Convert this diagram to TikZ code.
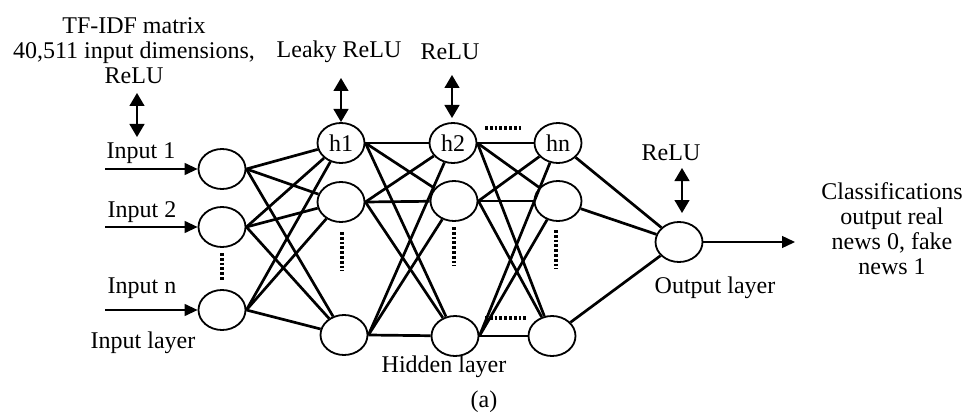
\documentclass[tikz,border=0pt]{standalone}
\usepackage{fontspec}
\setmainfont{Liberation Serif}
\usetikzlibrary{shapes.geometric,arrows.meta}
\begin{document}
\begin{tikzpicture}[x=1pt,y=-1pt,
  neuron/.style={draw,ellipse,line width=1.8pt,minimum width=47pt,minimum height=40pt,inner sep=0pt,font=\fontsize{24}{25}\selectfont},
  conn/.style={line width=2.7pt},
  lbl/.style={font=\fontsize{24}{25}\selectfont,inner sep=0pt,align=center},
  inarrow/.style={line width=1.3pt,-{Triangle[length=13pt,width=12pt]}},
  dbl/.style={line width=1.3pt,{Triangle[length=13pt,width=15pt]}-{Triangle[length=13pt,width=15pt]}},
  dotline/.style={line width=4pt,dash pattern=on 2.8pt off 2pt}
]
\useasboundingbox (0,0) rectangle (965,414);
% neurons
\node[neuron] (i1) at (222,169) {};
\node[neuron] (i2) at (222,227) {};
\node[neuron] (in) at (222,310) {};
\node[neuron] (a1) at (341,143) {h1};
\node[neuron] (a2) at (341,202) {};
\node[neuron] (a3) at (344,335) {};
\node[neuron] (b1) at (453,143) {h2};
\node[neuron] (b2) at (454,201) {};
\node[neuron] (b3) at (455,336) {};
\node[neuron] (c1) at (558,143) {hn};
\node[neuron] (c2) at (558,201) {};
\node[neuron] (c3) at (552,336) {};
\node[neuron] (o) at (679,242) {};
% connections
\foreach \s in {i1,i2,in}{\foreach \t in {a1,a2,a3}{\draw[conn] (\s.east) -- (\t);}}
\foreach \s in {a1,a2,a3}{\foreach \t in {b1,b2,b3}{\draw[conn] (\s.east) -- (\t);}}
\foreach \s in {b1,b2,b3}{\foreach \t in {c1,c2,c3}{\draw[conn] (\s.east) -- (\t);}}
\foreach \s in {c1,c2,c3}{\draw[conn] (\s) -- (o);}
% input arrows
\coordinate (s1) at (105,169);
\coordinate (s2) at (105,227);
\coordinate (sn) at (105,310);
\draw[inarrow] (s1) -- (i1);
\draw[inarrow] (s2) -- (i2);
\draw[inarrow] (sn) -- (in);
\coordinate (oe) at (795,242);
\draw[inarrow] (o) -- (oe);
% double arrows
\coordinate (d1a) at (137,93);  \coordinate (d1b) at (137,137);
\coordinate (d2a) at (341,78);  \coordinate (d2b) at (341,122);
\coordinate (d3a) at (452,75);  \coordinate (d3b) at (452,118);
\coordinate (d4a) at (682,168); \coordinate (d4b) at (682,213);
\draw[dbl] (d1a) -- (d1b);
\draw[dbl] (d2a) -- (d2b);
\draw[dbl] (d3a) -- (d3b);
\draw[dbl] (d4a) -- (d4b);
% dots
\coordinate (v1a) at (222,253); \coordinate (v1b) at (222,281);
\coordinate (v2a) at (342,232); \coordinate (v2b) at (342,271);
\coordinate (v3a) at (454,227); \coordinate (v3b) at (454,266);
\coordinate (v4a) at (556,230); \coordinate (v4b) at (556,269);
\coordinate (h1a) at (485,128); \coordinate (h1b) at (523,128);
\coordinate (h2a) at (485,318); \coordinate (h2b) at (528,318);
\foreach \p/\q in {v1a/v1b,v2a/v2b,v3a/v3b,v4a/v4b,h1a/h1b,h2a/h2b}{\draw[dotline] (\p) -- (\q);}
% labels
\node[lbl] (tf) at (134,51) {TF-IDF matrix\\40,511 input dimensions,\\ReLU};
\node[lbl] (lk) at (339,52) {Leaky ReLU};
\node[lbl] (r2) at (450,52) {ReLU};
\node[lbl] (r3) at (671,153) {ReLU};
\node[lbl] (l1) at (141,153) {Input 1};
\node[lbl] (l2) at (142,212) {Input 2};
\node[lbl] (ln) at (142,288) {Input n};
\node[lbl] (il) at (143,343) {Input layer};
\node[lbl] (hl) at (444,367) {Hidden layer};
\node[lbl] (ol) at (715,288) {Output layer};
\node[lbl] (cl) at (892,229) {Classifications\\output real\\news 0, fake\\news 1};
\node[lbl] (cap) at (484,402) {(a)};
\end{tikzpicture}
\end{document}
